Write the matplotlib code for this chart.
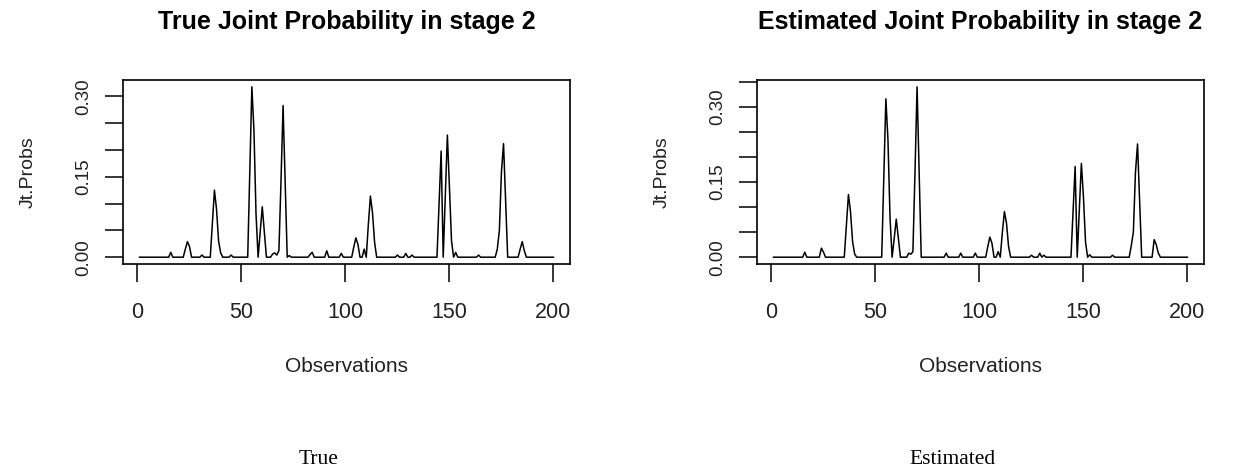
import numpy as np
import matplotlib
matplotlib.use("Agg")
import matplotlib.pyplot as plt

plt.rcParams['font.family'] = ['Liberation Sans', 'DejaVu Sans']

n_obs = 200

# observations with a non-zero joint probability (the rest sit at 0)
true_obs = [16, 23, 24, 25, 31, 36, 37, 38, 39, 40, 45,
            54, 55, 56, 57, 59, 60, 61, 65, 66, 67, 68, 69, 70, 71, 73,
            83, 84, 91, 98, 104, 105, 106, 109, 111, 112, 113, 114,
            125, 129, 132, 145, 146, 148, 149, 150, 151, 153, 164,
            173, 174, 175, 176, 177, 184, 185, 186]
true_vals = [0.009, 0.015, 0.029, 0.02, 0.004, 0.064, 0.125, 0.09, 0.03, 0.008, 0.004,
             0.159, 0.318, 0.237, 0.08, 0.046, 0.094, 0.046, 0.006, 0.008, 0.004, 0.012, 0.141, 0.283, 0.14, 0.003,
             0.005, 0.009, 0.012, 0.007, 0.019, 0.036, 0.024, 0.015, 0.061, 0.114, 0.083, 0.028,
             0.004, 0.007, 0.004, 0.10, 0.198, 0.115, 0.228, 0.13, 0.03, 0.009, 0.004,
             0.015, 0.05, 0.159, 0.212, 0.106, 0.015, 0.029, 0.012]

est_obs = [16, 24, 25, 36, 37, 38, 39, 40,
           54, 55, 56, 57, 59, 60, 61, 66, 67, 68, 69, 70, 71,
           84, 91, 98, 104, 105, 106, 109, 111, 112, 113, 114,
           125, 129, 131, 145, 146, 148, 149, 150, 151, 153, 164,
           173, 174, 175, 176, 177, 184, 185, 186]
est_vals = [0.01, 0.018, 0.01, 0.061, 0.125, 0.091, 0.031, 0.006,
            0.158, 0.316, 0.235, 0.079, 0.037, 0.076, 0.037, 0.008, 0.006, 0.011, 0.169, 0.34, 0.169,
            0.008, 0.008, 0.008, 0.021, 0.04, 0.028, 0.011, 0.049, 0.091, 0.068, 0.021,
            0.004, 0.008, 0.004, 0.091, 0.181, 0.095, 0.187, 0.12, 0.03, 0.005, 0.004,
            0.023, 0.05, 0.169, 0.226, 0.113, 0.035, 0.025, 0.008]

titles = ["True Joint Probability in stage 2", "Estimated Joint Probability in stage 2"]
captions = ["True", "Estimated"]
xticks = [0, 50, 100, 150, 200]
labelled_y = [0.0, 0.15, 0.30]

x = np.arange(1, n_obs + 1)
true_p = np.zeros(n_obs)
true_p[np.array(true_obs) - 1] = true_vals
est_p = np.zeros(n_obs)
est_p[np.array(est_obs) - 1] = est_vals

W, H = 1249, 475
fig = plt.figure(figsize=(W / 100, H / 100), dpi=100)

# axes boxes in pixels: left, top, right, bottom
boxes = [(123, 80, 570, 264), (757, 80, 1204, 264)]
txt = '#222222'

for box, series, title, cap in zip(boxes, [true_p, est_p], titles, captions):
    l, t, r, b = box
    aw, ah = r - l, b - t
    ax = fig.add_axes([l / W, 1 - b / H, aw / W, ah / H])
    ax.plot(x, series, color='black', lw=1.1)
    # R style 4% padding on both axes
    ax.set_xlim(x.min() - 0.04 * (n_obs - 1), x.max() + 0.04 * (n_obs - 1))
    top = series.max() * 1.04
    ax.set_ylim(-0.04 * series.max(), top)
    ax.set_xticks(xticks)
    yt = np.round(np.arange(0, top, 0.05), 2)
    ax.set_yticks(yt)
    ax.set_yticklabels(["%.2f" % v if any(abs(v - u) < 1e-9 for u in labelled_y) else "" for v in yt],
                       rotation=90, va='center')
    ax.tick_params(axis='both', direction='out', length=13, width=1.1,
                   colors='black', labelcolor=txt)
    ax.tick_params(axis='x', pad=14, labelsize=15.5)
    ax.tick_params(axis='y', pad=9, labelsize=13.5)
    for sp in ax.spines.values():
        sp.set_linewidth(1.2)
    ax.set_xlabel("Observations", fontsize=15, color=txt, va='center')
    ax.xaxis.set_label_coords(0.5, (b - 366) / ah)
    ax.set_ylabel("Jt.Probs", fontsize=14, color=txt, va='center')
    ax.yaxis.set_label_coords(-95 / aw, 0.5)
    fig.text((l + r) / 2 / W, 1 - 22 / H, title, ha='center', va='center',
             fontsize=18, fontweight='bold')
    fig.text((l + r) / 2 / W - 28 / W, 1 - 460 / H, cap, ha='center', va='center',
             fontsize=15.5, family=['Liberation Serif', 'DejaVu Serif'])

fig.savefig("out.png", dpi=100)
